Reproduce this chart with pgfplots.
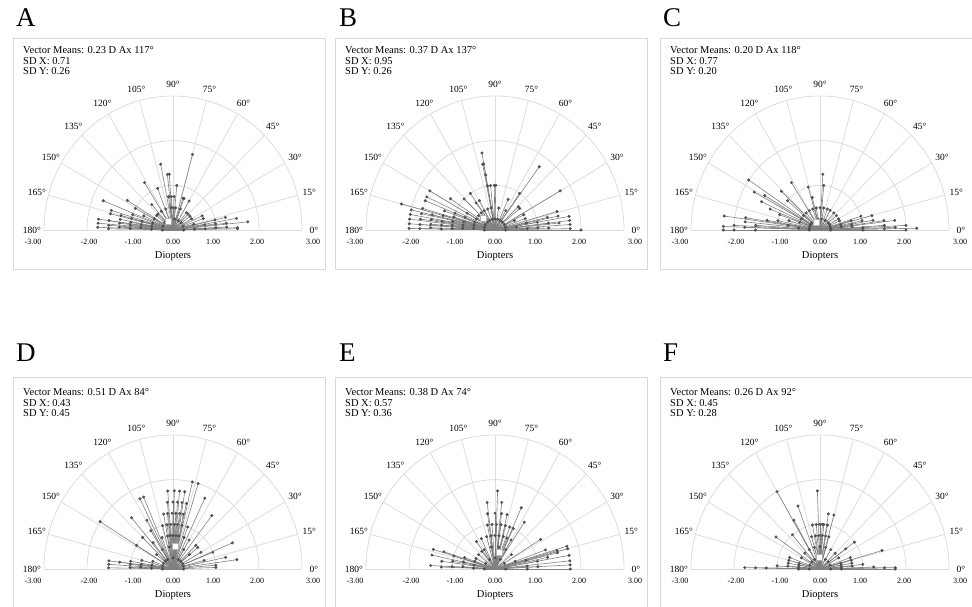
\documentclass[border=0pt]{standalone}
\usepackage{fontspec}
\setmainfont{Liberation Serif}
\usepackage{pgfplots}
\pgfplotsset{compat=1.18}
\usepackage{pgfplotstable}

\definecolor{boxc}{HTML}{D9D9D9}
\definecolor{gridc}{HTML}{DCDCDC}
\definecolor{linec}{HTML}{808080}
\definecolor{dotc}{HTML}{505050}

\newcommand\txtfont{\fontsize{10.5}{12}\selectfont}
\newcommand\angfont{\fontsize{9.5}{10}\selectfont}
\newcommand\ticfont{\fontsize{8}{9}\selectfont}
\newcommand\labfont{\fontsize{10.5}{12}\selectfont}
\newcommand\letfont{\fontsize{27}{27}\selectfont}

% axis (deg) and magnitude (D) of each eye
\pgfplotstableread{
a r
178 1.75
175 1.75
172 1.75
158 1.75
179 1.50
176 1.50
172 1.50
166 1.50
163 1.50
177 1.25
173 1.25
169 1.25
165 1.25
148 1.25
122 1.25
178 1.00
174 1.00
170 1.00
165 1.00
160 1.00
151 1.00
111 1.00
176 0.75
171 0.75
165 0.75
155 0.75
131 0.75
178 0.50
170 0.50
162 0.50
150 0.50
140 0.50
123 0.50
101 1.50
94 1.25
96 1.25
93 0.75
98 0.75
85 1.00
75 1.75
72 0.75
70 0.75
60 0.75
51 0.50
38 0.50
6 1.75
1 1.50
2 1.50
10 1.50
3 1.25
7 1.25
13 1.25
3 1.00
8 1.00
13 1.00
2 0.75
9 0.75
20 0.75
25 0.75
2 0.50
15 0.50
30 0.50
0 0.25
20 0.25
40 0.25
60 0.25
80 0.25
100 0.25
120 0.25
140 0.25
160 0.25
180 0.25
45 0.50
70 0.50
90 0.50
110 0.50
135 0.50
88 0.75
83 0.50
96 0.50
}\dataA

\pgfplotstableread{
a r
179 2.00
176 2.00
173 2.00
170 2.00
167 2.00
165 2.25
179 1.75
176 1.75
172 1.75
168 1.75
164 1.75
158 1.75
155 1.75
150 1.75
178 1.50
175 1.50
171 1.50
167 1.50
179 1.25
175 1.25
171 1.25
165 1.25
160 1.25
146 1.25
178 1.00
174 1.00
169 1.00
163 1.00
158 1.00
136 1.00
125 1.00
177 0.75
172 0.75
166 0.75
158 0.75
150 0.75
126 0.75
119 0.75
176 0.50
168 0.50
160 0.50
150 0.50
140 0.50
130 0.50
100 1.75
100 1.50
101 1.50
100 1.25
100 1.00
96 1.00
89 1.00
91 1.00
54 1.75
30 1.75
55 1.00
66 0.75
40 0.75
44 0.75
0 2.00
1 1.75
4 1.75
7 1.75
10 1.75
6 1.50
12 1.50
16 1.50
2 1.25
7 1.25
13 1.25
3 1.00
10 1.00
2 0.75
12 0.75
20 0.75
27 0.75
8 0.50
25 0.50
0 0.25
15 0.25
30 0.25
45 0.25
60 0.25
75 0.25
90 0.25
105 0.25
120 0.25
135 0.25
150 0.25
165 0.25
180 0.25
60 0.50
80 0.50
100 0.50
110 0.50
120 0.50
}\dataB

\pgfplotstableread{
a r
146 2.00
151 1.75
172 2.25
178 2.25
180 2.25
180 2.00
177 2.00
174 1.75
178 1.75
171 1.75
176 1.50
180 1.50
149 1.50
155 1.50
158 1.25
170 1.25
160 1.00
168 1.00
136 1.25
139 1.00
122 1.25
106 1.00
104 0.75
87 1.25
85 1.00
172 0.75
164 0.75
175 0.50
160 0.50
150 0.50
140 0.50
130 0.50
120 0.50
110 0.50
100 0.50
90 0.50
80 0.50
70 0.50
62 0.50
40 0.50
15 1.25
10 1.25
8 1.50
4 1.50
1 1.50
7 1.75
2 1.75
3 2.00
0 2.00
1 2.25
0 1.00
3 1.00
12 1.00
18 1.00
6 0.75
10 0.75
16 0.75
8 0.50
14 0.50
24 0.50
30 0.50
50 0.50
0 0.25
10 0.25
20 0.25
30 0.25
40 0.25
60 0.25
80 0.25
100 0.25
120 0.25
140 0.25
150 0.25
160 0.25
170 0.25
180 0.25
}\dataC

\pgfplotstableread{
a r
77 2.00
73 2.00
94 1.75
89 1.75
85 1.75
81 1.75
65 1.75
113 1.75
116 1.75
95 1.50
90 1.50
86 1.50
82 1.50
78 1.50
53 1.50
130 1.50
148 2.00
100 1.25
96 1.25
91 1.25
87 1.25
83 1.25
79 1.25
119 1.25
104 1.00
98 1.00
93 1.00
88 1.00
84 1.00
78 1.00
70 1.00
121 1.00
148 1.00
135 1.00
110 0.75
100 0.75
95 0.75
90 0.75
85 0.75
80 0.75
70 0.75
60 0.75
128 0.75
140 0.50
120 0.50
100 0.50
90 0.50
80 0.50
60 0.50
40 0.50
23 1.50
8 1.50
12 1.25
22 1.00
2 1.00
5 1.00
40 0.75
45 0.75
30 0.75
15 0.75
173 1.50
176 1.50
179 1.50
173 1.25
178 1.00
174 1.00
170 1.00
177 0.75
172 0.75
165 0.75
178 0.50
170 0.50
160 0.50
0 0.25
15 0.25
30 0.25
45 0.25
60 0.25
90 0.25
120 0.25
135 0.25
150 0.25
165 0.25
180 0.25
}\dataD

\pgfplotstableread{
a r
88 1.75
97 1.50
84 1.50
66 1.50
98 1.25
90 1.25
83 1.25
77 1.25
57 1.25
32 1.25
65 1.00
100 1.00
94 1.00
88 1.00
82 1.00
76 1.00
70 1.00
125 0.75
115 0.75
105 0.75
97 0.75
90 0.75
83 0.75
75 0.75
68 0.75
60 0.75
140 0.50
128 0.50
120 0.50
100 0.50
80 0.50
60 0.50
40 0.50
20 0.50
17 1.75
15 1.75
10 1.75
6 1.75
3 1.75
0 1.75
16 1.50
14 1.50
12 1.25
20 1.25
3 1.00
10 1.00
0 0.75
5 0.75
15 0.75
162 1.25
163 1.50
168 1.50
177 1.50
172 1.25
178 1.25
163 1.00
170 1.00
177 1.00
160 0.75
168 0.75
176 0.75
152 0.50
160 0.50
170 0.50
178 0.50
0 0.25
30 0.25
60 0.25
90 0.25
120 0.25
150 0.25
180 0.25
}\dataE

\pgfplotstableread{
a r
120 2.00
92 1.75
110 1.50
81 1.25
75 1.25
119 1.25
145 1.25
87 1.00
130 1.00
37 1.00
37 0.75
16 1.50
1 1.75
0 1.75
1 1.50
2 1.25
6 1.00
15 0.75
179 1.75
179 1.50
179 1.25
176 1.00
170 0.75
165 0.75
160 0.75
100 1.00
95 1.00
90 1.00
85 1.00
80 1.00
105 0.75
98 0.75
92 0.75
86 0.75
80 0.75
74 0.75
0 0.50
5 0.50
10 0.50
15 0.50
30 0.50
45 0.50
60 0.50
75 0.50
90 0.50
105 0.50
120 0.50
135 0.50
150 0.50
165 0.50
170 0.50
175 0.50
180 0.50
5 0.75
10 0.75
20 0.75
175 0.75
0 0.25
20 0.25
40 0.25
60 0.25
80 0.25
100 0.25
120 0.25
140 0.25
160 0.25
180 0.25
}\dataF

% #1,#2 centre of the half disc (pt), #3-#5 text lines, #6 table,
% #7 mean axis, #8 mean magnitude, #9 baseline of the first text line above the centre
\newcommand\panel[9]{%
\begin{scope}[shift={(#1pt,#2pt)}]
  \draw[boxc, line width=0.9pt] (-160pt,192pt) rectangle (152pt,-39pt);
  \node[anchor=base west, inner sep=0, font=\txtfont] at (-150pt,#9pt) {#3};
  \node[anchor=base west, inner sep=0, font=\txtfont] at (-150pt,#9pt-10.5pt) {#4};
  \node[anchor=base west, inner sep=0, font=\txtfont] at (-150pt,#9pt-21pt) {#5};
  \foreach \a in {0,15,...,180}
    \draw[gridc, line width=0.8pt] (0,0) -- ({129pt*cos(\a)},{134pt*sin(\a)});
  \foreach \rr/\ry in {43pt/44.67pt,86pt/89.33pt,129pt/134pt}
    \draw[gridc, line width=0.8pt] (\rr,0) arc[start angle=0, end angle=180, x radius=\rr, y radius=\ry];
  \foreach \a in {0,15,...,180}
    \node[font=\angfont, inner sep=0] at ({141pt*cos(\a)},{146pt*sin(\a)}) {\a°};
  \foreach \t/\l in {-140pt/-3.00,-84pt/-2.00,-40pt/-1.00,0pt/0.00,40pt/1.00,84pt/2.00,140pt/3.00}
    \node[font=\ticfont, inner sep=0] at (\t,-12pt) {\l};
  \node[font=\labfont, inner sep=0] at (0,-26pt) {Diopters};
\end{scope}
\begin{axis}[at={(#1pt,#2pt)}, anchor=south, x=43pt, y=44.67pt,
  xmin=-3, xmax=3, ymin=0, ymax=3, hide axis, clip=false]
  \addplot[linec, line width=0.6pt,
    quiver={u={\thisrow{r}*cos(\thisrow{a})}, v={\thisrow{r}*sin(\thisrow{a})}}]
    table[x expr=0, y expr=0] {#6};
  \addplot[only marks, mark=*, mark size=1.3pt, dotc, data cs=polar] table[x=a, y=r] {#6};
  \addplot[only marks, mark=square*, mark size=3pt, data cs=polar,
    mark options={fill=white, draw=gray!60, line width=0.6pt}] coordinates {(#7,#8)};
\end{axis}}

\begin{document}
\begin{tikzpicture}
\useasboundingbox (0,0) rectangle (972pt,607pt);

\node[anchor=base west, inner sep=0, font=\letfont] at (16pt,580pt) {A};
\node[anchor=base west, inner sep=0, font=\letfont] at (339pt,580pt) {B};
\node[anchor=base west, inner sep=0, font=\letfont] at (663pt,580pt) {C};
\node[anchor=base west, inner sep=0, font=\letfont] at (16pt,245pt) {D};
\node[anchor=base west, inner sep=0, font=\letfont] at (339pt,245pt) {E};
\node[anchor=base west, inner sep=0, font=\letfont] at (663pt,245pt) {F};

\panel{173}{377}{Vector Means: 0.23 D Ax 117°}{SD X: 0.71}{SD Y: 0.26}{\dataA}{117}{0.23}{176}
\panel{495}{377}{Vector Means: 0.37 D Ax 137°}{SD X: 0.95}{SD Y: 0.26}{\dataB}{137}{0.37}{176}
\panel{820}{377}{Vector Means: 0.20 D Ax 118°}{SD X: 0.77}{SD Y: 0.20}{\dataC}{118}{0.20}{176}
\panel{173}{38}{Vector Means: 0.51 D Ax 84°}{SD X: 0.43}{SD Y: 0.45}{\dataD}{84}{0.51}{173}
\panel{495}{38}{Vector Means: 0.38 D Ax 74°}{SD X: 0.57}{SD Y: 0.36}{\dataE}{74}{0.38}{173}
\panel{820}{38}{Vector Means: 0.26 D Ax 92°}{SD X: 0.45}{SD Y: 0.28}{\dataF}{92}{0.26}{173}
\end{tikzpicture}
\end{document}
